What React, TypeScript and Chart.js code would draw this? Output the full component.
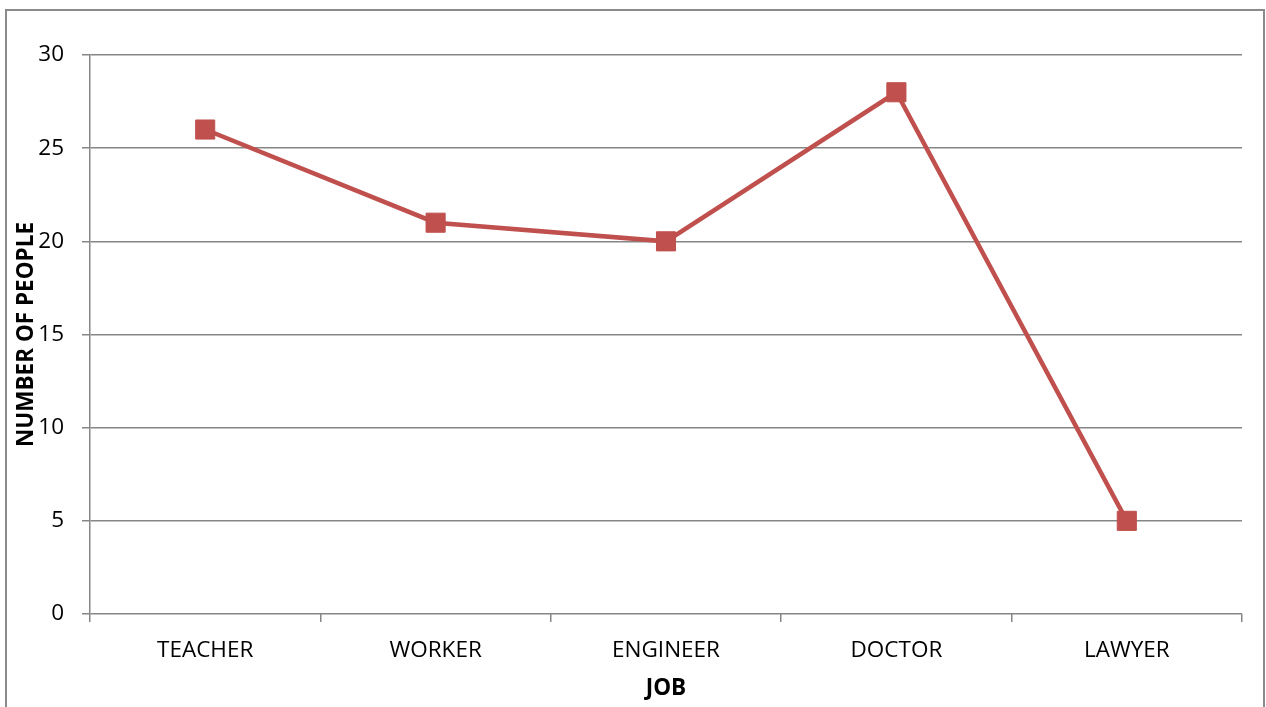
import React, { useEffect, useRef } from "react";
import { Chart, registerables } from "chart.js";

Chart.register(...registerables);

const categories = ["TEACHER", "WORKER", "ENGINEER", "DOCTOR", "LAWYER"];
const peopleCounts = [26, 21, 20, 28, 5];
const yTicks = [0, 5, 10, 15, 20, 25, 30];
const xTitle = "JOB";
const yTitle = "NUMBER OF PEOPLE";

const FONT = "'Open Sans', 'Liberation Sans', sans-serif";
const GRID = "#868686";
const RED = "#C0504D";

export default function App() {
  const ref = useRef<HTMLCanvasElement | null>(null);

  useEffect(() => {
    if (!ref.current) return;
    const chart = new Chart(ref.current, {
      type: "line",
      data: {
        labels: categories,
        datasets: [
          {
            label: "People",
            data: peopleCounts,
            borderColor: RED,
            backgroundColor: RED,
            borderWidth: 4.5,
            pointStyle: "rect",
            pointRadius: 13.5,
            pointHoverRadius: 13.5,
            pointBorderWidth: 1,
            pointBackgroundColor: RED,
            pointBorderColor: RED,
            tension: 0,
          },
        ],
      },
      options: {
        animation: false,
        responsive: false,
        maintainAspectRatio: false,
        layout: { padding: { left: 0, right: 24, top: 55, bottom: 0 } },
        plugins: {
          legend: { display: false },
          tooltip: { enabled: false },
        },
        scales: {
          x: {
            type: "category",
            offset: true,
            grid: {
              offset: true,
              drawOnChartArea: false,
              drawTicks: true,
              tickLength: 8,
              color: GRID,
              lineWidth: 1.5,
            },
            border: { display: false },
            ticks: {
              color: "#000",
              font: { family: FONT, size: 22.5 },
              padding: 15,
              maxRotation: 0,
            },
            title: {
              display: true,
              text: xTitle,
              color: "#000",
              font: { family: FONT, size: 22.5, weight: "bold" },
              padding: { top: 0, bottom: 5 },
            },
            afterFit: (s: any) => {
              s.height = 93;
            },
          },
          y: {
            min: 0,
            max: 30,
            afterBuildTicks: (s: any) => {
              s.ticks = yTicks.map((v) => ({ value: v }));
            },
            grid: {
              color: GRID,
              lineWidth: 1.5,
              tickLength: 8,
              drawTicks: true,
            },
            border: { display: true, color: GRID, width: 1.5 },
            ticks: {
              color: "#000",
              font: { family: FONT, size: 22.5 },
              padding: 18,
            },
            title: {
              display: true,
              text: yTitle,
              color: "#000",
              font: { family: FONT, size: 22.5, weight: "bold" },
              padding: { top: 13, bottom: 0 },
            },
            afterFit: (s: any) => {
              s.width = 90;
            },
          },
        },
      },
    });
    return () => chart.destroy();
  }, []);

  return (
    <div
      style={{
        position: "absolute",
        left: 0,
        top: 0,
        width: 1266,
        height: 707,
        background: "#fff",
        overflow: "hidden",
      }}
    >
      <div
        style={{
          position: "absolute",
          left: 5,
          top: 9,
          width: 1256,
          height: 760,
          border: "2px solid #8a8a8a",
        }}
      />
      <canvas
        ref={ref}
        width={1266}
        height={707}
        style={{ position: "absolute", left: 0, top: 0, width: 1266, height: 707 }}
      />
    </div>
  );
}
